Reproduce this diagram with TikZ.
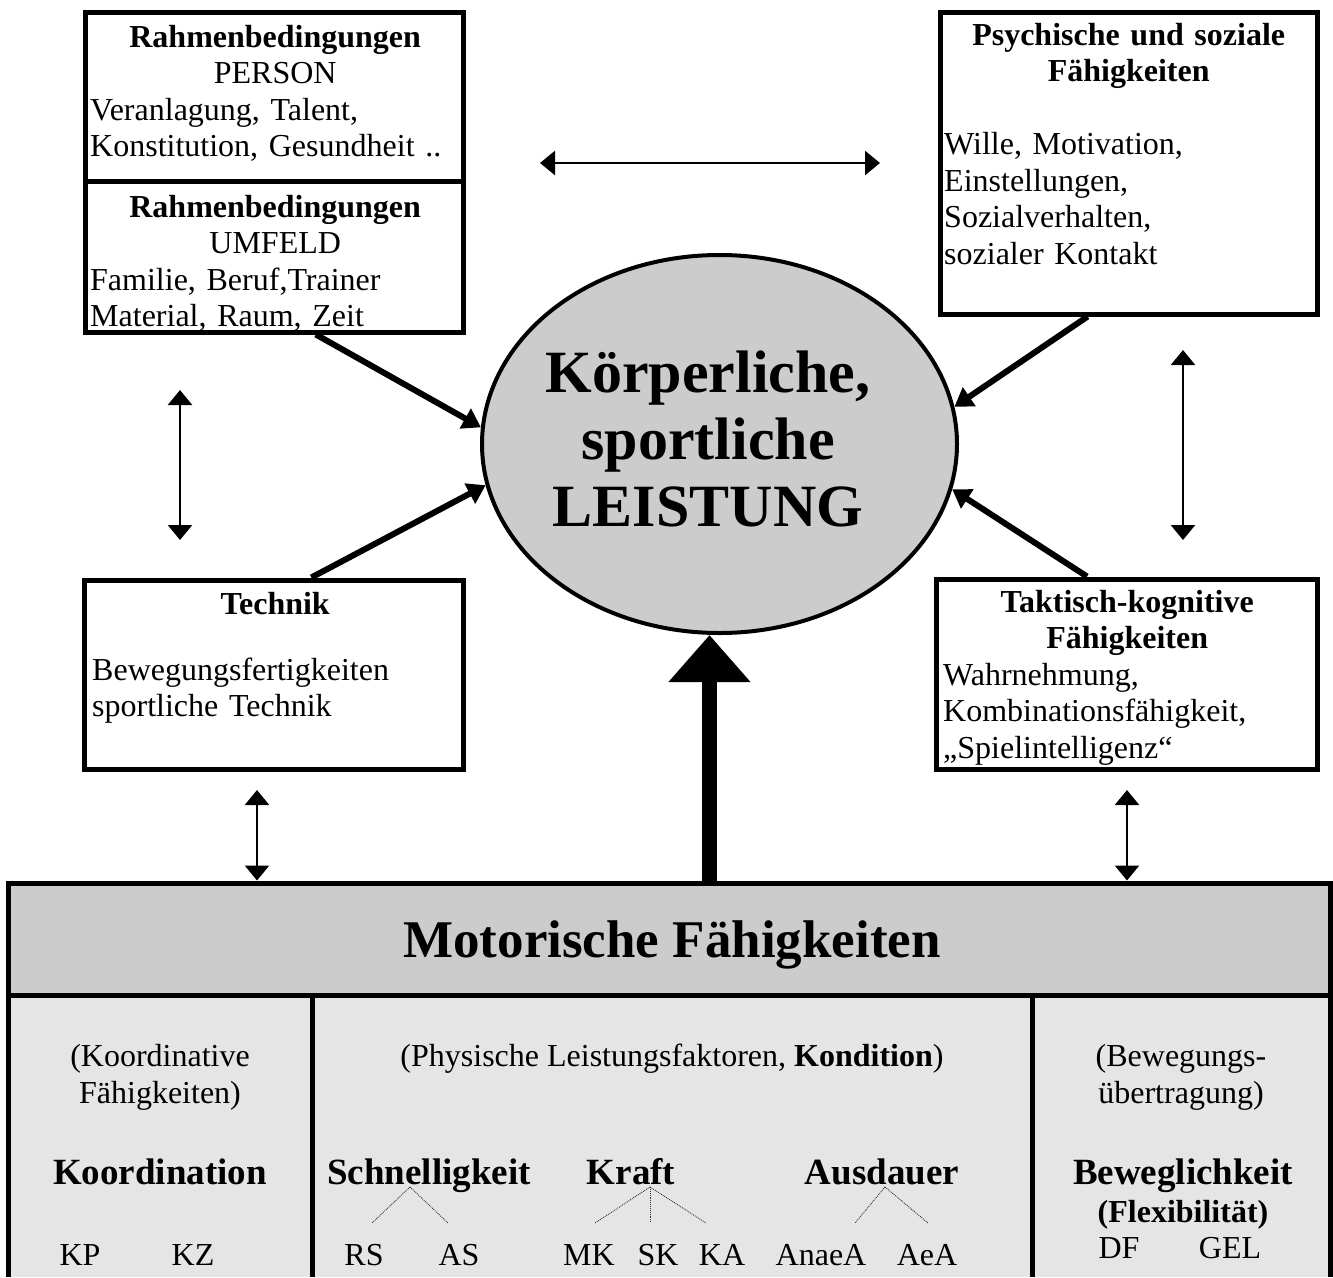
\documentclass[tikz,border=0pt]{standalone}
\usepackage{fontspec}
\setmainfont{Liberation Serif}
\usetikzlibrary{arrows.meta, positioning, shapes.geometric}

\definecolor{dunkelgrau}{gray}{0.8}
\definecolor{hellgrau}{gray}{0.9}
\newcommand{\grund}{\fontsize{32}{36.5}\selectfont}
\newcommand{\mittel}{\fontsize{37}{40}\selectfont\bfseries}
\newcommand{\gross}{\fontsize{53}{60}\selectfont\bfseries}
\newcommand{\riesig}{\fontsize{60}{67}\selectfont\bfseries}
\setlength{\parindent}{0pt}
\frenchspacing

\begin{document}
\begin{tikzpicture}[x=1pt, y=-1pt,
      feld/.style={draw, line width=5pt, inner sep=0pt},
      inhalt/.style={anchor=base west, inner sep=0pt, align=left, font=\grund},
      spalte/.style={anchor=base, inner sep=0pt, align=center, font=\grund},
      wort/.style={anchor=base, inner sep=0pt, font=\mittel},
      kurz/.style={anchor=base, inner sep=0pt, font=\grund},
      dick/.style={line width=6pt, -{Triangle[length=18pt, width=22pt]}},
      duenn/.style={line width=2.5pt,
                    {Triangle[length=15pt, width=24pt]}-{Triangle[length=15pt, width=24pt]}},
      punkt/.style={densely dotted, line width=0.9pt, black!80}]

    \useasboundingbox (0,0) rectangle (1333,1277);

    % === Motorische Faehigkeiten (unten) ===
    \fill[hellgrau] (8,996) rectangle (1330,1277);
    \foreach \x in {8,312,1032,1330}
        \draw[line width=5pt] (\x,994) -- (\x,1277);
    \node[feld, fill=dunkelgrau, minimum width=1322pt, minimum height=112.5pt]
        (motor) at (669,939.25) {};
    \node[anchor=base, inner sep=0pt, font=\gross] (motortxt) at (672,957)
        {Motorische Fähigkeiten};

    % Spalten
    \node[spalte] (koordkl) at (160,1103) {(Koordinative\\Fähigkeiten)};
    \node[spalte] (physkl) at (672,1066)
        {(Physische Leistungsfaktoren, \textbf{Kondition})};
    \node[spalte] (bewkl) at (1181,1103) {(Bewegungs-\\übertragung)};

    \node[wort] (koord) at (160,1184) {Koordination};
    \node[wort] (schnell) at (429,1184) {Schnelligkeit};
    \node[wort] (kraft) at (631,1184) {Kraft};
    \node[wort] (ausdauer) at (882,1184) {Ausdauer};
    \node[wort] (beweg) at (1183,1184) {Beweglichkeit};
    \node[kurz, font=\grund\bfseries] (flex) at (1183,1222) {(Flexibilität)};

    \foreach \n/\x in {KP/80, KZ/193, RS/364, AS/459, MK/589, SK/658, KA/722,
                       AnaeA/821, AeA/927}
        \node[kurz] (\n) at (\x,1265) {\n};
    \node[kurz] (DF) at (1119,1258) {DF};
    \node[kurz] (GEL) at (1230,1258) {GEL};

    % Verzweigungen (gepunktet)
    \coordinate (sp) at (410,1187);
    \coordinate (kp) at (650,1187);
    \coordinate (ap) at (885,1187);
    \foreach \n/\x in {rs/372, as/448, mk/595, sk/650, ka/706, an/855, ae/928}
        \coordinate (d\n) at (\x,1223);
    \foreach \a/\b in {sp/drs, sp/das, kp/dmk, kp/dsk, kp/dka, ap/dan, ap/dae}
        \draw[punkt] (\a) -- (\b);

    % === Leistung (Mitte) ===
    \node[ellipse, draw, line width=4pt, fill=dunkelgrau, minimum width=475pt,
          minimum height=378pt, inner sep=0pt] (leistung) at (719.5,444) {};
    \node[align=center, inner sep=0pt, font=\riesig] (leistungtxt) at (708,439)
        {Körperliche,\\sportliche\\LEISTUNG};

    % === Texte der Kaesten ===
    \node[inhalt, text width=370pt] (persontxt) at (90,47)
        {{\centering\bfseries Rahmenbedingungen\par}{\centering PERSON\par}%
         Veranlagung, Talent,\\Konstitution, Gesundheit ..};
    \node[inhalt, text width=370pt] (umfeldtxt) at (90,217)
        {{\centering\bfseries Rahmenbedingungen\par}{\centering UMFELD\par}%
         Familie, Beruf,Trainer\\Material, Raum, Zeit};
    \node[inhalt, text width=369pt] (psychtxt) at (944,45)
        {{\centering\bfseries Psychische und soziale\\Fähigkeiten\par}%
         \vspace{36.5pt}Wille, Motivation,\\Einstellungen,\\Sozialverhalten,\\sozialer Kontakt};
    \node[inhalt, text width=366pt] (techniktxt) at (92,614)
        {{\centering\bfseries Technik\par}%
         \vspace{29.5pt}Bewegungsfertigkeiten\\sportliche Technik};
    \node[inhalt, text width=368pt] (taktiktxt) at (943,612)
        {{\centering\bfseries Taktisch-kognitive\\Fähigkeiten\par}%
         Wahrnehmung,\\Kombinationsfähigkeit,\\„Spielintelligenz“};

    % === Kaesten ===
    \node[feld, minimum width=378pt, minimum height=169pt] (person) at (274.5,97) {};
    \node[feld, minimum width=378pt, minimum height=150.5pt] (umfeld) at (274.5,256.75) {};
    \node[feld, minimum width=376.5pt, minimum height=302pt] (psych) at (1128.75,163) {};
    \node[feld, minimum width=379pt, minimum height=189.5pt] (technik) at (274,674.75) {};
    \node[feld, minimum width=381pt, minimum height=190.5pt] (taktik) at (1126.5,674.25) {};

    % === Pfeile ===
    \draw[dick] (umfeld.-62) -- (leistung.176);
    \draw[dick] (technik.69) -- (leistung.190);
    \draw[dick] (psych.255) -- (leistung.9);
    \draw[dick] (taktik.112) -- (leistung.349.5);

    \draw[line width=15.5pt, -{Triangle[length=47pt, width=79pt]}]
        ([xshift=-10pt]leistung.south |- motor.north) -- ([xshift=-10pt]leistung.south);

    \coordinate (hl) at (540,163);
    \coordinate (hr) at (880,163);
    \draw[duenn] (hl) -- (hr);
    \coordinate (lo) at (180,390);
    \coordinate (lu) at (180,540);
    \draw[duenn] (lo) -- (lu);
    \coordinate (ro) at (1183,350);
    \coordinate (ru) at (1183,540);
    \draw[duenn] (ro) -- (ru);
    \coordinate (to) at (257,790);
    \draw[duenn] (to) -- (to |- motor.north);
    \coordinate (ko) at (1127,790);
    \draw[duenn] (ko) -- (ko |- motor.north);

\end{tikzpicture}
\end{document}
